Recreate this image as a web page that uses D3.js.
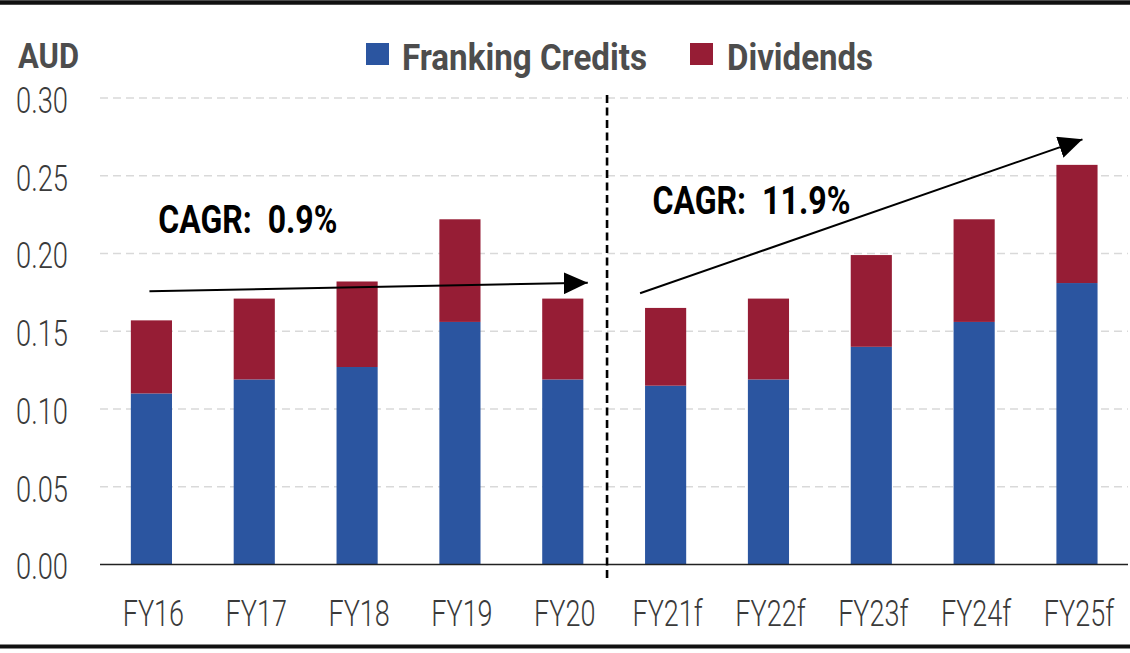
<!DOCTYPE html>
<html>
<head>
<meta charset="utf-8">
<script src="https://cdn.jsdelivr.net/npm/d3@7"></script>
<style>
  html, body { margin: 0; padding: 0; background: #fff; }
  svg { display: block; font-family: Roboto, "DejaVu Sans", sans-serif; }
</style>
</head>
<body>
<svg id="chart" width="1130" height="653"></svg>
<script>
// ---- data ----
const categories = ["FY16", "FY17", "FY18", "FY19", "FY20", "FY21f", "FY22f", "FY23f", "FY24f", "FY25f"];
const frankingCredits = [0.110, 0.119, 0.127, 0.156, 0.119, 0.115, 0.119, 0.140, 0.156, 0.181];
const dividends = [0.047, 0.052, 0.055, 0.066, 0.052, 0.050, 0.052, 0.059, 0.066, 0.076];
const yTicks = [0.00, 0.05, 0.10, 0.15, 0.20, 0.25, 0.30];
const seriesNames = ["Franking Credits", "Dividends"];
const seriesColors = ["#2B55A0", "#961D35"];
const cagrLabels = ["CAGR:  0.9%", "CAGR:  11.9%"];

// ---- layout ----
const svg = d3.select("#chart");
const W = 1130, H = 653;
const plotLeft = 100, plotRight = 1128;

const x = d3.scaleBand().domain(categories).range([100, 1128.4]).paddingInner(0.6).paddingOuter(0.3);
const y = d3.scaleLinear().domain([0, 0.30]).range([564.5, 98]);

// frame lines top and bottom
svg.append("line").attr("x1", 0).attr("x2", W).attr("y1", 2.5).attr("y2", 2.5)
  .attr("stroke", "#111").attr("stroke-width", 4.5);
svg.append("line").attr("x1", 0).attr("x2", W).attr("y1", 646.5).attr("y2", 646.5)
  .attr("stroke", "#111").attr("stroke-width", 4);

// gridlines
svg.append("g").selectAll("line").data(yTicks.filter(d => d > 0)).join("line")
  .attr("x1", plotLeft).attr("x2", plotRight)
  .attr("y1", d => y(d)).attr("y2", d => y(d))
  .attr("stroke", "#d9d9d9").attr("stroke-width", 1.3).attr("stroke-dasharray", "8,5");

// stacked bars
const rows = categories.map((c, i) => ({ cat: c, "Franking Credits": frankingCredits[i], "Dividends": dividends[i] }));
const stack = d3.stack().keys(seriesNames)(rows);
svg.append("g").selectAll("g").data(stack).join("g")
  .attr("fill", (d, i) => seriesColors[i])
  .selectAll("rect").data(d => d).join("rect")
  .attr("x", d => x(d.data.cat))
  .attr("width", x.bandwidth())
  .attr("y", d => y(d[1]))
  .attr("height", d => y(d[0]) - y(d[1]));

// baseline
svg.append("line").attr("x1", plotLeft).attr("x2", plotRight).attr("y1", y(0)).attr("y2", y(0))
  .attr("stroke", "#222").attr("stroke-width", 1.5);

// y axis
const yAxis = svg.append("g").attr("transform", `translate(${plotLeft},0)`)
  .call(d3.axisLeft(y).tickValues(yTicks).tickFormat(d3.format(".2f")).tickSize(0).tickPadding(32));
yAxis.select(".domain").remove();
yAxis.selectAll("text")
  .attr("font-family", "Roboto, sans-serif").attr("font-weight", 300)
  .attr("font-size", 36).attr("fill", "#3a3a3a").attr("dy", "0.4em")
  .attr("textLength", 52).attr("lengthAdjust", "spacingAndGlyphs");

// x axis
const xAxis = svg.append("g").attr("transform", `translate(0,${y(0)})`)
  .call(d3.axisBottom(x).tickSize(0).tickPadding(35.5));
xAxis.select(".domain").remove();
xAxis.selectAll("text")
  .attr("font-family", "Roboto, sans-serif").attr("font-weight", 300)
  .attr("font-size", 37).attr("fill", "#3a3a3a")
  .attr("transform", "translate(2,0) scale(0.73,1)");

// AUD unit label
svg.append("text").attr("x", 18).attr("y", 68.3).text("AUD")
  .attr("font-weight", 700).attr("font-size", 35).attr("fill", "#4d4d4d")
  .attr("textLength", 61).attr("lengthAdjust", "spacingAndGlyphs");

// legend
const legendItems = [
  { sq: 366, tx: 402, len: 245 },
  { sq: 690, tx: 727, len: 146 }
];
const lg = svg.append("g");
legendItems.forEach((it, i) => {
  lg.append("rect").attr("x", it.sq).attr("y", 43).attr("width", 23).attr("height", 22)
    .attr("fill", seriesColors[i]);
  lg.append("text").attr("x", it.tx).attr("y", 69.5).text(seriesNames[i])
    .attr("font-weight", 700).attr("font-size", 37).attr("fill", "#4d4d4d")
    .attr("textLength", it.len).attr("lengthAdjust", "spacingAndGlyphs");
});

// divider between actual and forecast
const divX = x("FY21f") - 38;
svg.append("line").attr("x1", divX).attr("x2", divX).attr("y1", 95).attr("y2", 582)
  .attr("stroke", "#000").attr("stroke-width", 2.6).attr("stroke-dasharray", "8,4.5");

// CAGR arrows
const defs = svg.append("defs");
defs.append("marker").attr("id", "ah").attr("viewBox", "0 0 24 22")
  .attr("refX", 24).attr("refY", 11).attr("markerWidth", 24).attr("markerHeight", 22)
  .attr("markerUnits", "userSpaceOnUse").attr("orient", "auto")
  .append("path").attr("d", "M0,0 L24,11 L0,22 Z").attr("fill", "#000");

const arrows = [
  { x1: x("FY16") + x.bandwidth() / 2 - 2, v1: 0.1757, x2: x("FY20") + x.bandwidth() / 2 + 25, v2: 0.1812 },
  { x1: x("FY21f") - 5, v1: 0.1744, x2: x("FY25f") + x.bandwidth() / 2 + 5.5, v2: 0.2734 }
];
svg.append("g").selectAll("line").data(arrows).join("line")
  .attr("x1", d => d.x1).attr("y1", d => y(d.v1))
  .attr("x2", d => d.x2).attr("y2", d => y(d.v2))
  .attr("stroke", "#000").attr("stroke-width", 2).attr("marker-end", "url(#ah)");

// CAGR labels
const cagrPos = [
  { x: 158.3, y: 233.3, len: 179 },
  { x: 652.4, y: 213.6, len: 198 }
];
cagrPos.forEach((p, i) => {
  svg.append("text").attr("x", p.x).attr("y", p.y).text(cagrLabels[i])
    .attr("font-weight", 700).attr("font-size", 39).attr("fill", "#000")
    .attr("xml:space", "preserve")
    .attr("textLength", p.len).attr("lengthAdjust", "spacingAndGlyphs");
});
</script>
</body>
</html>
